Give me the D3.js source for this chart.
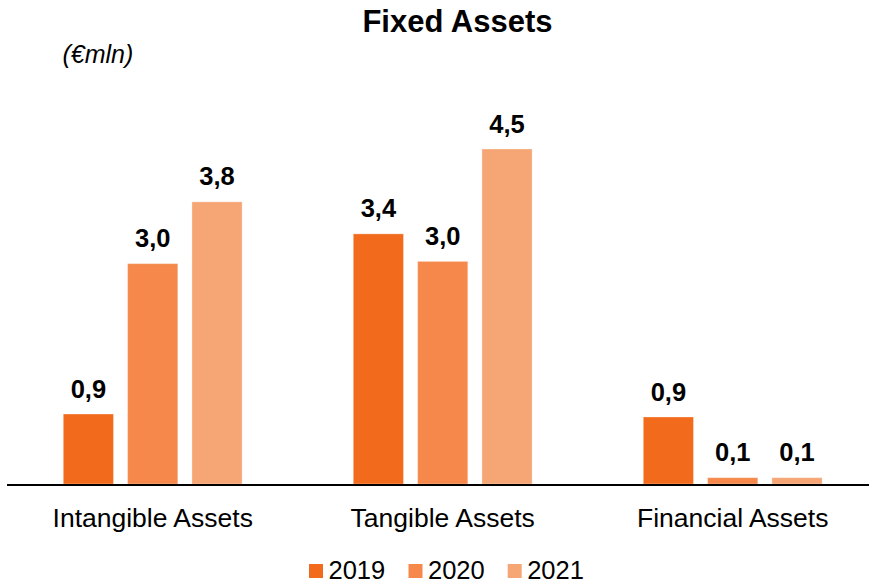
<!DOCTYPE html>
<html>
<head>
<meta charset="utf-8">
<script src="https://cdn.jsdelivr.net/npm/d3@7"></script>
<style>
  html, body { margin: 0; padding: 0; background: #fff; }
  svg { display: block; font-family: "Liberation Sans", Arial, Helvetica, sans-serif; }
</style>
</head>
<body>
<svg id="chart" width="869" height="583"></svg>
<script>
// ---- Data ----
const categories = ["Intangible Assets", "Tangible Assets", "Financial Assets"];
const years = ["2019", "2020", "2021"];
const values2019 = [0.94, 3.36, 0.90];
const values2020 = [2.96, 2.99, 0.085];
const values2021 = [3.79, 4.50, 0.085];
const seriesValues = [values2019, values2020, values2021];
const seriesColors = ["#F26A1B", "#F5884A", "#F5A674"];
const titleText = "Fixed Assets";
const unitText = "(€mln)";

// ---- Layout ----
const W = 869, H = 583;
const baseY = 484;
const svg = d3.select("#chart");

const x0 = d3.scaleBand().domain(categories).range([7.7, 877.7]).padding(0);
const x1 = d3.scaleBand().domain(years).range([55.6, 234.4]).paddingInner(0.22).paddingOuter(0);
const y = d3.scaleLinear().domain([0, 4.5]).range([baseY, 149]);
const color = d3.scaleOrdinal().domain(years).range(seriesColors);
const fmt = v => d3.format(".1f")(v).replace(".", ",");

const rows = [];
categories.forEach((c, ci) => {
  years.forEach((yr, si) => rows.push({ cat: c, year: yr, value: seriesValues[si][ci] }));
});

// Title
svg.append("text")
  .attr("x", 457.5).attr("y", 32)
  .attr("text-anchor", "middle")
  .attr("font-size", 31).attr("font-weight", "bold").attr("fill", "#000")
  .text(titleText);

svg.append("text")
  .attr("x", 62.5).attr("y", 63)
  .attr("font-size", 25).attr("font-style", "italic").attr("fill", "#000")
  .text(unitText);

// Bars
const g = svg.append("g");
g.selectAll("rect.bar").data(rows).join("rect")
  .attr("class", "bar")
  .attr("x", d => x0(d.cat) + x1(d.year))
  .attr("y", d => y(d.value))
  .attr("width", x1.bandwidth())
  .attr("height", d => y(0) - y(d.value))
  .attr("fill", d => color(d.year))
  .attr("stroke", "#ffffff").attr("stroke-opacity", 0.3).attr("stroke-width", 1);

// Value labels
g.selectAll("text.val").data(rows).join("text")
  .attr("class", "val")
  .attr("x", d => x0(d.cat) + x1(d.year) + x1.bandwidth() / 2)
  .attr("y", d => y(d.value) - 16.5)
  .attr("text-anchor", "middle")
  .attr("font-size", 25.5).attr("font-weight", "bold").attr("fill", "#000")
  .text(d => fmt(d.value));

// Axis
const axis = d3.axisBottom(x0).tickSize(0).tickPadding(0);
const ax = svg.append("g").attr("transform", `translate(0,${baseY + 1})`).call(axis);
ax.select(".domain").attr("d", `M7,0H${W}`).attr("stroke", "#000").attr("stroke-width", 2);
ax.selectAll(".tick text")
  .attr("font-size", 26.5).attr("fill", "#000")
  .attr("font-family", "Liberation Sans, Arial, sans-serif")
  .attr("dy", null).attr("y", 41.5);

// Legend
const legendX = [309, 408.5, 507.7];
const leg = svg.append("g");
years.forEach((yr, i) => {
  leg.append("rect").attr("x", legendX[i]).attr("y", 564).attr("width", 14).attr("height", 14)
    .attr("fill", color(yr));
  leg.append("text").attr("x", legendX[i] + 19.5).attr("y", 578.5)
    .attr("font-size", 25.5).attr("fill", "#000").text(yr);
});
</script>
</body>
</html>
